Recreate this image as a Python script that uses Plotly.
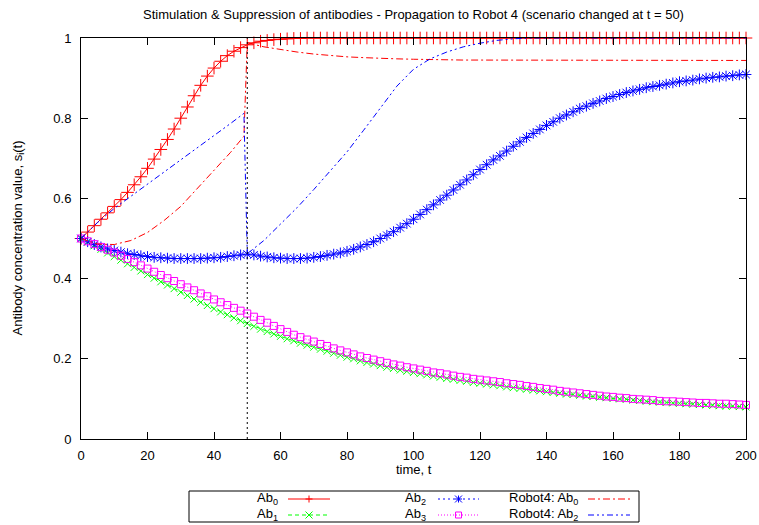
import plotly.graph_objects as go

# ---------------- data ----------------
t = list(range(0, 201, 2))

ab0 = [0.500, 0.516, 0.532, 0.548, 0.564, 0.580, 0.597, 0.615, 0.634, 0.654,
       0.675, 0.698, 0.722, 0.747, 0.773, 0.800, 0.828, 0.856, 0.882, 0.905,
       0.925, 0.942, 0.956, 0.967, 0.976, 0.983, 0.988, 0.992, 0.994, 0.996,
       0.997, 0.998, 0.999, 0.999, 1.000, 1.000, 1.000, 1.000, 1.000, 1.000,
       1.000, 1.000, 1.000, 1.000, 1.000, 1.000, 1.000, 1.000, 1.000, 1.000,
       1.000, 1.000, 1.000, 1.000, 1.000, 1.000, 1.000, 1.000, 1.000, 1.000,
       1.000, 1.000, 1.000, 1.000, 1.000, 1.000, 1.000, 1.000, 1.000, 1.000,
       1.000, 1.000, 1.000, 1.000, 1.000, 1.000, 1.000, 1.000, 1.000, 1.000,
       1.000, 1.000, 1.000, 1.000, 1.000, 1.000, 1.000, 1.000, 1.000, 1.000,
       1.000, 1.000, 1.000, 1.000, 1.000, 1.000, 1.000, 1.000, 1.000, 1.000,
       1.000]

ab1 = [0.500, 0.491, 0.482, 0.473, 0.464, 0.455, 0.446, 0.437, 0.428, 0.419,
       0.410, 0.401, 0.392, 0.384, 0.375, 0.366, 0.358, 0.349, 0.341, 0.333,
       0.325, 0.317, 0.310, 0.302, 0.295, 0.288, 0.281, 0.274, 0.268, 0.262,
       0.256, 0.250, 0.245, 0.239, 0.234, 0.229, 0.224, 0.219, 0.214, 0.209,
       0.204, 0.200, 0.195, 0.191, 0.187, 0.183, 0.179, 0.176, 0.172, 0.169,
       0.166, 0.163, 0.160, 0.157, 0.154, 0.151, 0.149, 0.146, 0.144, 0.141,
       0.139, 0.137, 0.135, 0.133, 0.130, 0.128, 0.126, 0.124, 0.122, 0.120,
       0.118, 0.116, 0.114, 0.112, 0.111, 0.109, 0.107, 0.106, 0.104, 0.103,
       0.101, 0.100, 0.099, 0.097, 0.096, 0.094, 0.093, 0.092, 0.091, 0.090,
       0.089, 0.088, 0.087, 0.086, 0.085, 0.084, 0.083, 0.082, 0.082, 0.081,
       0.080]

ab2 = [0.500, 0.492, 0.485, 0.479, 0.474, 0.470, 0.466, 0.462, 0.460, 0.457,
       0.455, 0.453, 0.452, 0.451, 0.450, 0.450, 0.450, 0.450, 0.450, 0.451,
       0.452, 0.453, 0.455, 0.457, 0.459, 0.461, 0.459, 0.456, 0.454, 0.452,
       0.451, 0.450, 0.450, 0.450, 0.451, 0.453, 0.455, 0.458, 0.461, 0.464,
       0.468, 0.473, 0.479, 0.485, 0.492, 0.500, 0.508, 0.517, 0.527, 0.537,
       0.548, 0.560, 0.572, 0.584, 0.596, 0.608, 0.621, 0.634, 0.646, 0.659,
       0.672, 0.684, 0.696, 0.706, 0.718, 0.730, 0.741, 0.752, 0.762, 0.772,
       0.782, 0.791, 0.800, 0.808, 0.816, 0.824, 0.830, 0.837, 0.843, 0.849,
       0.854, 0.859, 0.864, 0.868, 0.872, 0.876, 0.879, 0.882, 0.885, 0.888,
       0.891, 0.893, 0.895, 0.898, 0.900, 0.902, 0.903, 0.905, 0.906, 0.908,
       0.909]

ab3 = [0.500, 0.493, 0.486, 0.479, 0.472, 0.465, 0.457, 0.449, 0.441, 0.433,
       0.425, 0.417, 0.409, 0.401, 0.394, 0.386, 0.378, 0.371, 0.363, 0.356,
       0.348, 0.341, 0.334, 0.327, 0.320, 0.313, 0.305, 0.297, 0.290, 0.282,
       0.274, 0.267, 0.260, 0.254, 0.248, 0.243, 0.237, 0.232, 0.226, 0.221,
       0.216, 0.211, 0.206, 0.202, 0.198, 0.194, 0.190, 0.186, 0.183, 0.179,
       0.176, 0.173, 0.170, 0.166, 0.164, 0.161, 0.158, 0.155, 0.153, 0.150,
       0.148, 0.146, 0.144, 0.142, 0.139, 0.137, 0.135, 0.132, 0.130, 0.127,
       0.125, 0.123, 0.120, 0.118, 0.116, 0.114, 0.112, 0.110, 0.108, 0.106,
       0.105, 0.103, 0.102, 0.100, 0.099, 0.098, 0.097, 0.095, 0.094, 0.094,
       0.093, 0.092, 0.091, 0.090, 0.090, 0.089, 0.088, 0.088, 0.087, 0.086,
       0.085]

r4_t = [0, 5, 10, 15, 20, 25, 30, 35, 40, 45, 49,
        50, 55, 60, 65, 70, 75, 80, 85, 90, 95, 100, 105, 110, 115, 120, 125,
        130, 135, 140, 145, 150, 155, 160, 165, 170, 175, 180, 185, 190, 195, 200]

r4_ab0 = [0.500, 0.486, 0.485, 0.495, 0.515, 0.545, 0.580, 0.625, 0.670, 0.715, 0.755,
          0.988, 0.978, 0.971, 0.965, 0.960, 0.956, 0.953, 0.951, 0.949, 0.948, 0.947,
          0.946, 0.946, 0.945, 0.945, 0.945, 0.945, 0.945, 0.945, 0.945, 0.945, 0.945,
          0.944, 0.944, 0.944, 0.944, 0.944, 0.944, 0.944, 0.944, 0.944]

r4_ab2 = [0.500, 0.540, 0.575, 0.605, 0.635, 0.665, 0.695, 0.726, 0.757, 0.787, 0.812,
          0.462, 0.495, 0.535, 0.577, 0.622, 0.668, 0.716, 0.770, 0.826, 0.880, 0.922,
          0.948, 0.965, 0.978, 0.987, 0.994, 0.998, 1.000, 1.000, 1.000, 1.000, 1.000,
          1.000, 1.000, 1.000, 1.000, 1.000, 1.000, 1.000, 1.000, 1.000]

change_t = 50

labels = ["Ab<sub>0</sub>", "Ab<sub>1</sub>", "Ab<sub>2</sub>", "Ab<sub>3</sub>",
          "Robot4: Ab<sub>0</sub>", "Robot4: Ab<sub>2</sub>"]
title_text = "Stimulation & Suppression of antibodies - Propagation to Robot 4 (scenario changed at t = 50)"

# ---------------- layout geometry ----------------
W, H = 759, 525
L, R, T, B = 81, 746, 38, 439
FONT = "Liberation Sans, Arial, sans-serif"

def px(x):
    return (x - L) / (R - L)

def py(y):
    return (B - y) / (B - T)

RED, GREEN, BLUE, MAG = "#ff0000", "#00ff00", "#0000ff", "#ff00ff"

styles = [
    dict(color=RED, dash="solid", symbol="cross-thin-open", size=9),
    dict(color=GREEN, dash="4px,3px", symbol="x-thin-open", size=7),
    dict(color=BLUE, dash="2px,3px", symbol="asterisk-open", size=9),
    dict(color=MAG, dash="1px,2px", symbol="square-open", size=7),
]

fig = go.Figure()
for ys, st, name in zip([ab0, ab1, ab2, ab3], styles, labels[:4]):
    fig.add_trace(go.Scatter(
        x=t, y=ys, mode="lines+markers", name=name, showlegend=False,
        cliponaxis=False,
        line=dict(color=st["color"], width=1, dash=st["dash"]),
        marker=dict(symbol=st["symbol"], size=st["size"], color=st["color"],
                    line=dict(color=st["color"], width=1)),
    ))

fig.add_trace(go.Scatter(x=r4_t, y=r4_ab0, mode="lines", name=labels[4], showlegend=False,
                         line=dict(color=RED, width=1, dash="7px,3px,2px,3px")))
fig.add_trace(go.Scatter(x=r4_t, y=r4_ab2, mode="lines", name=labels[5], showlegend=False,
                         line=dict(color=BLUE, width=1, dash="6px,3px,2px,3px,2px,3px")))

shapes = []
# vertical marker for the scenario change
shapes.append(dict(type="line", xref="x", yref="y", x0=change_t, x1=change_t, y0=0, y1=1,
                   line=dict(color="black", width=1, dash="2px,3px"), layer="above"))

# ---------------- custom gnuplot-style key ----------------
shapes.append(dict(type="rect", xref="paper", yref="paper",
                   x0=px(189), x1=px(639), y0=py(522), y1=py(491),
                   line=dict(color="black", width=1), fillcolor="rgba(0,0,0,0)"))

annotations = []
key_cols = [(280, 288, 330), (428, 438, 479), (580, 588, 630)]
key_rows = [499, 515]
key_items = [
    (0, 0, RED, "solid", "plus"),
    (0, 1, GREEN, "4px,3px", "x"),
    (1, 0, BLUE, "2px,3px", "star"),
    (1, 1, MAG, "1px,2px", "square"),
    (2, 0, RED, "7px,3px,2px,3px", None),
    (2, 1, BLUE, "6px,3px,2px,3px,2px,3px", None),
]

def seg(x0, y0, x1, y1, color):
    return dict(type="line", xref="paper", yref="paper",
                x0=px(x0), x1=px(x1), y0=py(y0), y1=py(y1),
                line=dict(color=color, width=1))

for i, (c, r, color, dash, mk) in enumerate(key_items):
    tx, sx0, sx1 = key_cols[c]
    yy = key_rows[r]
    annotations.append(dict(text=labels[i], xref="paper", yref="paper",
                            x=px(tx), y=py(yy - 1), xanchor="right", yanchor="middle",
                            showarrow=False, font=dict(family=FONT, size=13, color="black")))
    shapes.append(dict(type="line", xref="paper", yref="paper",
                       x0=px(sx0), x1=px(sx1), y0=py(yy), y1=py(yy),
                       line=dict(color=color, width=1, dash=dash)))
    cx = (sx0 + sx1) / 2
    h = 3.5
    if mk in ("plus", "star"):
        shapes.append(seg(cx - h, yy, cx + h, yy, color))
        shapes.append(seg(cx, yy - h, cx, yy + h, color))
    if mk in ("x", "star"):
        shapes.append(seg(cx - h, yy - h, cx + h, yy + h, color))
        shapes.append(seg(cx - h, yy + h, cx + h, yy - h, color))
    if mk == "square":
        shapes.append(dict(type="rect", xref="paper", yref="paper",
                           x0=px(cx - 3), x1=px(cx + 3), y0=py(yy + 3), y1=py(yy - 3),
                           line=dict(color=color, width=1)))

# axis titles
annotations.append(dict(text="time, t", xref="paper", yref="paper",
                        x=px(413.5), y=py(469), xanchor="center", yanchor="middle",
                        showarrow=False, font=dict(family=FONT, size=13, color="black")))
annotations.append(dict(text="Antibody concentration value, s<sub>i</sub>(t)",
                        xref="paper", yref="paper", textangle=-90,
                        x=px(18), y=0.5, xanchor="center", yanchor="middle",
                        showarrow=False, font=dict(family=FONT, size=13, color="black")))

axis_common = dict(showgrid=False, zeroline=False, showline=True, linecolor="black",
                   linewidth=1, mirror="ticks", ticks="inside", ticklen=7,
                   tickcolor="black", tickwidth=1, automargin=False,
                   tickfont=dict(family=FONT, size=13, color="black"))

fig.update_layout(
    width=W, height=H, autosize=False,
    margin=dict(l=L, r=W - R, t=T, b=H - B, pad=0, autoexpand=False),
    paper_bgcolor="white", plot_bgcolor="white",
    font=dict(family=FONT, size=13, color="black"),
    title=dict(text=title_text, x=0.5, xref="paper", y=1 - 14 / H, yanchor="middle",
               automargin=False,
               font=dict(family=FONT, size=13, color="black")),
    xaxis=dict(range=[0, 200], dtick=20, tick0=0, ticklabelstandoff=4, **axis_common),
    yaxis=dict(range=[0, 1], dtick=0.2, tick0=0, ticklabelstandoff=6, **axis_common),
    shapes=shapes,
    annotations=annotations,
    showlegend=False,
)

fig.write_html("out.html", config={"responsive": False, "displayModeBar": False})
